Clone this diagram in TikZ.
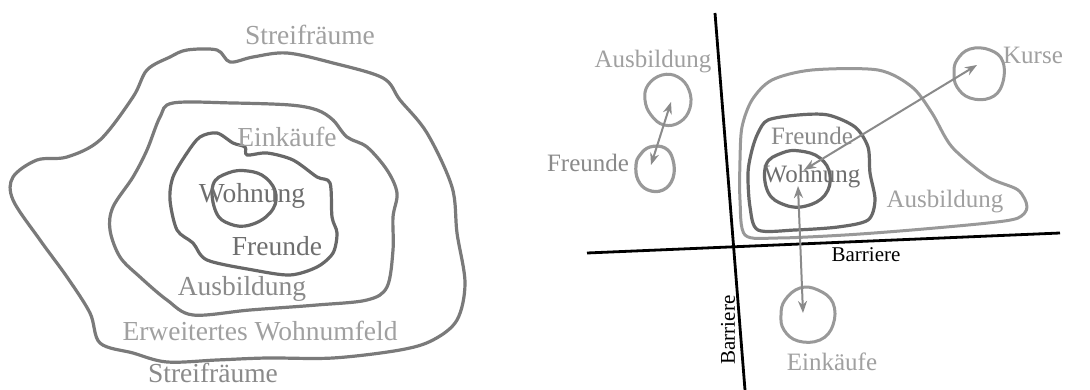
\documentclass[tikz,border=0pt]{standalone}
\usepackage{fontspec}
\setmainfont{Liberation Serif}
\usetikzlibrary{arrows.meta}
\definecolor{lgray}{HTML}{A0A0A0}
\definecolor{mgray}{HTML}{8A8A8A}
\definecolor{dgray}{HTML}{6E6E6E}
\definecolor{ring}{HTML}{7A7A7A}
\definecolor{ringd}{HTML}{686868}
\definecolor{ringl}{HTML}{999999}
\tikzset{
  blob/.style={line width=3.2pt, ring, line join=round},
  blobd/.style={line width=3.2pt, ringd, line join=round},
  blobl/.style={line width=3pt, ringl, line join=round},
  barrier/.style={line width=2.8pt, black},
  conn/.style={line width=2pt, mgray, {Stealth[length=12pt,width=9pt]}-{Stealth[length=12pt,width=9pt]}},
  lbig/.style={font=\fontsize{27.5}{31}\selectfont, inner sep=0pt},
  rbig/.style={font=\fontsize{25}{29}\selectfont, inner sep=0pt},
  bar/.style={font=\fontsize{21}{25}\selectfont, inner sep=0pt, text=black},
}
\begin{document}
\begin{tikzpicture}[x=1pt,y=-1pt]
\useasboundingbox[fill=white] (0,0) rectangle (1090,390);
% ---------- left diagram ----------
\draw[blob] plot[smooth cycle, tension=0.55] coordinates {
 (187,50) (217,50) (230,62) (253,57) (287,53) (333,63) (383,78) (400,100) (427,133)
 (452,187) (457,233) (465,283) (457,320) (433,340) (400,350) (333,358) (267,358)
 (217,360) (167,362) (133,353) (100,343) (90,313) (67,277) (40,240) (13,200)
 (13,177) (37,160) (67,157) (100,140) (133,97) (147,70) (170,57)};
\draw[blob] plot[smooth cycle, tension=0.55] coordinates {
 (173,103) (233,103) (290,105) (317,110) (333,120) (347,137) (367,147) (387,170)
 (397,193) (393,217) (393,250) (387,287) (367,300) (317,305) (250,310) (193,315)
 (167,300) (140,277) (120,257) (110,230) (113,207) (133,177) (147,150) (160,117)};
\draw[blobd] plot[smooth cycle, tension=0.5] coordinates {
 (200,137) (217,133) (233,143) (245,147) (247,155) (267,153) (293,160) (317,177)
 (330,183) (332,217) (337,233) (333,253) (317,267) (290,275) (253,270) (207,260)
 (193,243) (177,230) (170,200) (173,177) (187,153)};
\draw[blobd] plot[smooth cycle, tension=0.7] coordinates {
 (213,185) (228,173) (248,171) (266,178) (276,195) (270,213) (250,225) (230,224) (216,212)};
\node[lbig, text=lgray] (ls1) at (310,35) {Streifräume};
\node[lbig, text=lgray] (lein) at (287,137) {Einkäufe};
\node[lbig, text=dgray] (lwoh) at (252,196) {Wohnung};
\node[lbig, text=dgray] (lfre) at (277,246) {Freunde};
\node[lbig, text=mgray] (laus) at (242,289) {Ausbildung};
\node[lbig, text=lgray] (lerw) at (260,331) {Erweitertes Wohnumfeld};
\node[lbig, text=mgray] (ls2) at (213,373) {Streifräume};
% ---------- right diagram ----------
\coordinate (vb1) at (715,13);
\coordinate (vb2) at (745,390);
\coordinate (hb1) at (587,253);
\coordinate (hb2) at (1060,233);
\draw[barrier] (vb1) -- (vb2);
\draw[barrier] (hb1) -- (hb2);
\node[bar] (bh) at (866,255) {Barriere};
\node[bar, rotate=90] (bv) at (728,330) {Barriere};
% big Ausbildung blob
\draw[blobl] plot[smooth cycle, tension=0.5] coordinates {
 (742,127) (752,100) (772,80) (812,70) (878,70) (912,87) (932,113) (952,147)
 (988,177) (1018,190) (1027,207) (1018,218) (988,223) (912,230) (845,235)
 (778,238) (745,235) (740,200) (740,160)};
% Freunde ring
\draw[blobd] plot[smooth cycle, tension=0.5] coordinates {
 (758,133) (768,120) (798,115) (828,115) (855,127) (868,147) (870,173) (875,200)
 (868,220) (838,227) (795,230) (758,230) (750,207) (748,173) (752,150)};
% Wohnung ring
\draw[blobd] plot[smooth cycle, tension=0.7] coordinates {
 (766,165) (782,153) (800,151) (820,158) (830,175) (825,195) (806,206) (785,205) (768,192)};
% small circles
\draw[blobl] plot[smooth cycle, tension=0.7] coordinates {
 (648,85) (662,75) (678,77) (689,90) (690,108) (680,122) (664,125) (651,115) (645,100)};
\draw[blobd, ringl] plot[smooth cycle, tension=0.7] coordinates {
 (640,155) (650,147) (665,148) (673,160) (673,178) (663,190) (648,190) (638,180) (636,165)};
\draw[blobl] plot[smooth cycle, tension=0.7] coordinates {
 (957,60) (970,49) (990,50) (1003,62) (1002,85) (990,98) (970,98) (957,87) (954,73)};
\draw[blobl] plot[smooth cycle, tension=0.7] coordinates {
 (785,300) (800,288) (818,290) (833,303) (833,325) (820,340) (798,341) (784,330) (781,315)};
% labels
\node[rbig, text=lgray] (raus1) at (653,62) {Ausbildung};
\node[rbig, text=mgray] (rfre1) at (588,163) {Freunde};
\node[rbig, text=lgray] (rkur) at (1033,55) {Kurse};
\node[rbig, text=mgray] (rfre2) at (812,136) {Freunde};
\node[rbig, text=dgray] (rwoh) at (812,177) {Wohnung};
\node[rbig, text=lgray] (raus2) at (945,202) {Ausbildung};
\node[rbig, text=lgray] (rein) at (832,362) {Einkäufe};
% arrow end points
\coordinate (aF) at (651,165);
\coordinate (aA) at (671,102);
\coordinate (aW1) at (804,170);
\coordinate (aK) at (977,65);
\coordinate (aW2) at (798,186);
\coordinate (aE) at (803,313);
\draw[conn] (aF) -- (aA);
\draw[conn] (aW1) -- (aK);
\draw[conn] (aW2) -- (aE);
\end{tikzpicture}
\end{document}
